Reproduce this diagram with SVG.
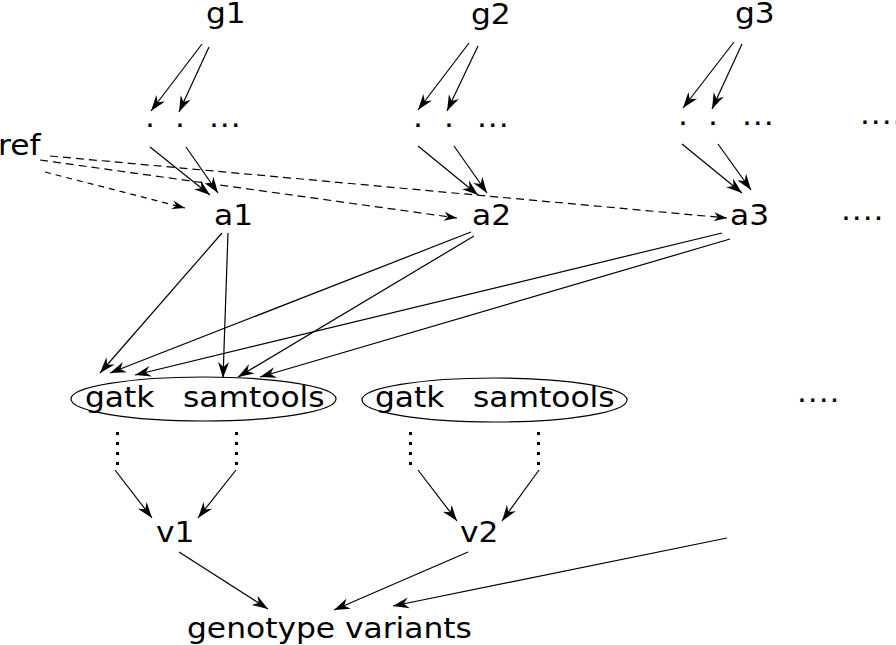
<svg xmlns="http://www.w3.org/2000/svg" width="896" height="645" viewBox="0 0 896 645">
<style>
text{font-family:"DejaVu Sans","Liberation Sans",sans-serif;font-size:29px;fill:#000}
.dots{letter-spacing:0.8px}
.e{stroke:#000;stroke-width:1.2;fill:none;marker-end:url(#ah)}
.d{stroke:#000;stroke-width:1.2;fill:none;stroke-dasharray:8 5;marker-end:url(#ahs)}
.vd{stroke:#000;stroke-width:3;fill:none;stroke-dasharray:3 7}
ellipse{fill:none;stroke:#000;stroke-width:1.2}
</style>
<defs>
<marker id="ah" viewBox="-17 -6 18 12" refX="0" refY="0" markerWidth="18" markerHeight="12" markerUnits="userSpaceOnUse" orient="auto">
<path d="M0,0 L-16,-5.5 L-11,0 L-16,5.5 Z" fill="#000"/>
</marker>
<marker id="ahs" viewBox="-14 -5 15 10" refX="0" refY="0" markerWidth="15" markerHeight="10" markerUnits="userSpaceOnUse" orient="auto">
<path d="M0,0 L-13,-4.5 L-9,0 L-13,4.5 Z" fill="#000"/>
</marker>
</defs>
<rect width="896" height="645" fill="#fff"/>
<g id="g1"><text transform="translate(206,23) scale(1.08,1)">g1</text></g>
<g id="g2"><text transform="translate(471,24) scale(1.08,1)">g2</text></g>
<g id="g3"><text transform="translate(735,23) scale(1.08,1)">g3</text></g>
<g id="g1-parts"><text transform="translate(145,127) scale(1.08,1)">.</text><text transform="translate(175,127) scale(1.08,1)">.</text><text class="dots" transform="translate(209,127) scale(1.08,1)">...</text></g>
<g id="g2-parts"><text transform="translate(413,127) scale(1.08,1)">.</text><text transform="translate(444,127) scale(1.08,1)">.</text><text class="dots" transform="translate(477,127) scale(1.08,1)">...</text></g>
<g id="g3-parts"><text transform="translate(678,125) scale(1.08,1)">.</text><text transform="translate(708,125) scale(1.08,1)">.</text><text class="dots" transform="translate(742,125) scale(1.08,1)">...</text></g>
<g id="more-g"><text class="dots" transform="translate(860,124) scale(1.08,1)">....</text></g>
<g id="ref"><text transform="translate(-2,155) scale(1.08,1)">ref</text></g>
<g id="a1"><text transform="translate(214,225) scale(1.08,1)">a1</text></g>
<g id="a2"><text transform="translate(472,225) scale(1.08,1)">a2</text></g>
<g id="a3"><text transform="translate(730,225) scale(1.08,1)">a3</text></g>
<g id="more-a"><text class="dots" transform="translate(841,220) scale(1.08,1)">....</text></g>
<g id="callers1"><ellipse cx="203.5" cy="399" rx="132.5" ry="22"/><text transform="translate(85,407) scale(1.08,1)">gatk</text><text transform="translate(183,407) scale(1.08,1)">samtools</text></g>
<g id="callers2"><ellipse cx="494.5" cy="400" rx="132.5" ry="22"/><text transform="translate(375,407) scale(1.08,1)">gatk</text><text transform="translate(473,407) scale(1.08,1)">samtools</text></g>
<g id="more-callers"><text class="dots" transform="translate(797,402) scale(1.08,1)">....</text></g>
<g id="v1"><text transform="translate(156,542) scale(1.08,1)">v1</text></g>
<g id="v2"><text transform="translate(460,542) scale(1.08,1)">v2</text></g>
<g id="genotype-variants"><text transform="translate(187,638) scale(1.08,1)">genotype variants</text></g>
<g id="connectors">
<path class="e" d="M202,44L151,111"/>
<path class="e" d="M209,47L179,112"/>
<path class="e" d="M150,147L210,195"/>
<path class="e" d="M186,147L218,193"/>
<path class="e" d="M469,43L418,110"/>
<path class="e" d="M478,46L447,111"/>
<path class="e" d="M418,146L478,195"/>
<path class="e" d="M454,146L487,193"/>
<path class="e" d="M734,42L683,108"/>
<path class="e" d="M742,44L712,109"/>
<path class="e" d="M682,144L742,193"/>
<path class="e" d="M718,144L751,190"/>
<path class="e" d="M222,233L100,373"/>
<path class="e" d="M228,233L223,378"/>
<path class="e" d="M471,232L110,373"/>
<path class="e" d="M474,236L238,377"/>
<path class="e" d="M722,233L135,375"/>
<path class="e" d="M730,239L260,377"/>
<path class="vd" d="M117.5,432V465"/>
<path class="vd" d="M236.5,432V465"/>
<path class="vd" d="M410.5,432V465"/>
<path class="vd" d="M538.5,432V465"/>
<path class="e" d="M115,470L152,518"/>
<path class="e" d="M236,470L198,518"/>
<path class="e" d="M418,470L457,521"/>
<path class="e" d="M539,470L502,521"/>
<path class="e" d="M179,552L268,609"/>
<path class="e" d="M468,552L334,610"/>
<path class="e" d="M727,538L393,606"/>
<path class="d" style="stroke-dasharray:6 5" d="M45,172L185,208"/>
<path class="d" d="M40,160L457,218"/>
<path class="d" d="M50,156L727,218"/>
</g>
</svg>
